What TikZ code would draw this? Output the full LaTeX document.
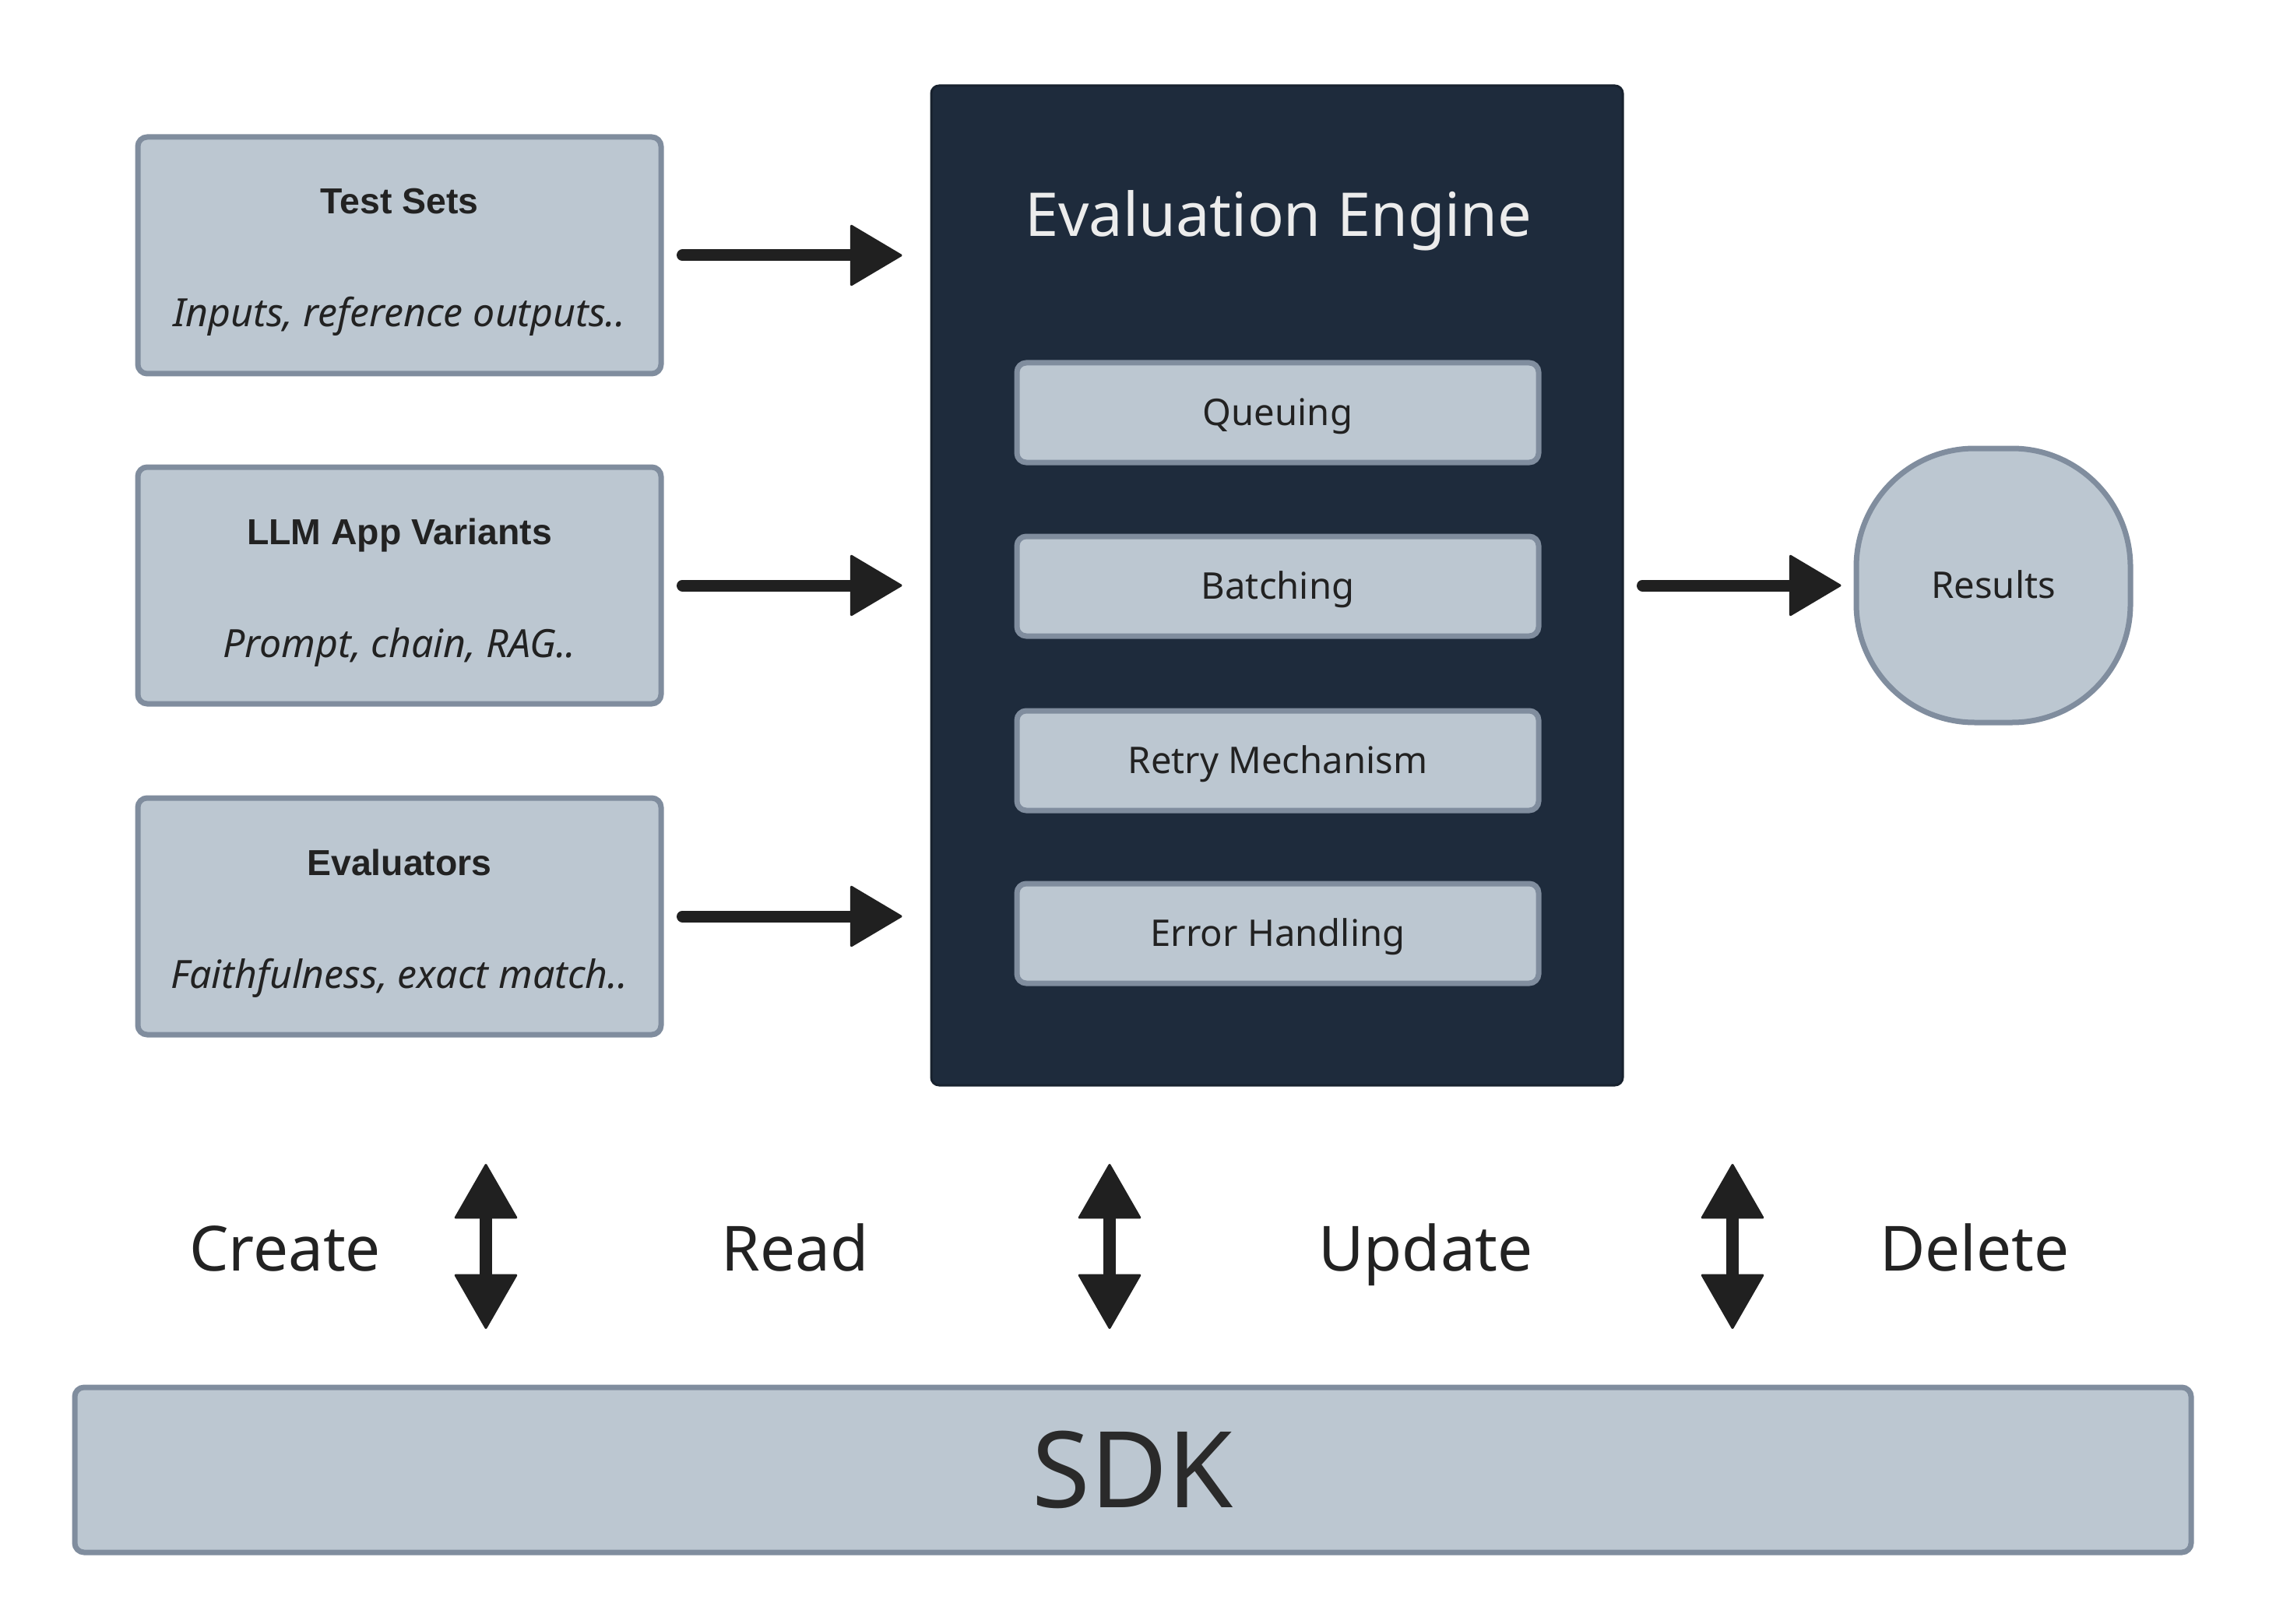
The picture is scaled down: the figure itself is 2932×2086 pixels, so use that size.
\documentclass[tikz,border=0pt]{standalone}
\usepackage{fontspec}
\setmainfont{Noto Sans}
\newfontfamily\titlefont{Liberation Sans}
\usetikzlibrary{arrows.meta,calc}
\definecolor{boxfill}{RGB}{188,199,209}
\definecolor{boxline}{RGB}{128,141,158}
\definecolor{engfill}{RGB}{30,43,60}
\definecolor{engline}{RGB}{24,34,47}
\definecolor{arrowc}{RGB}{32,32,32}
\definecolor{txt}{RGB}{34,34,34}
\definecolor{lighttxt}{RGB}{236,236,236}
\tikzset{
  greybox/.style={draw=boxline, fill=boxfill, line width=1.75pt, rounded corners=3pt, inner sep=0pt},
  inbox/.style={greybox, minimum width=168pt, minimum height=76pt},
  subbox/.style={greybox, minimum width=167.5pt, minimum height=32pt, text=txt,
    text height=8.4pt, text depth=0pt, font=\fontsize{11.8pt}{13pt}\selectfont},
  boxtitle/.style={anchor=base, text=txt, inner sep=0pt, font=\titlefont\fontsize{11.6pt}{13pt}\selectfont\bfseries},
  boxsub/.style={anchor=base, text=txt, inner sep=0pt, font=\fontsize{12.5pt}{14pt}\selectfont\itshape},
  crud/.style={anchor=base, text=txt, inner sep=0pt, font=\fontsize{20pt}{24pt}\selectfont},
  flow/.style={draw=arrowc, line width=3.75pt, line cap=round,
    -{Triangle[length=17pt, width=20pt, round, line width=0.75pt]}},
  dbl/.style={draw=arrowc, line width=4pt,
    {Triangle[length=18pt, width=20.5pt, round, line width=0.75pt]}-{Triangle[length=18pt, width=20.5pt, round, line width=0.75pt]}}
}
\begin{document}
\begin{tikzpicture}[x=0.25pt,y=-0.25pt]
\fill[white] (0,0) rectangle (2932,2086);
\useasboundingbox (0,0) rectangle (2932,2086);

% input boxes
\node[inbox] (ts) at (513,328) {};
\node[boxtitle] (tst) at ($(ts.center)+(0,-53)$) {Test Sets};
\node[boxsub] (tss) at ($(ts.center)+(0,92)$) {Inputs, reference outputs..};

\node[inbox] (llm) at (513,752) {};
\node[boxtitle] (llmt) at ($(llm.center)+(0,-53)$) {LLM App Variants};
\node[boxsub] (llms) at ($(llm.center)+(0,92)$) {Prompt, chain, RAG..};

\node[inbox] (ev) at (513,1177) {};
\node[boxtitle] (evt) at ($(ev.center)+(0,-53)$) {Evaluators};
\node[boxsub] (evs) at ($(ev.center)+(0,92)$) {Faithfulness, exact match..};

% engine
\node[draw=engline, fill=engfill, line width=0.75pt, rounded corners=2.5pt,
      minimum width=222pt, minimum height=321pt, inner sep=0pt] (eng) at (1640,752) {};
\node[anchor=base, text=lighttxt, inner sep=0pt, font=\fontsize{19.4pt}{24pt}\selectfont]
      (engt) at (1642,304) {Evaluation Engine};
\node[subbox] (q) at (1641,530) {Queuing};
\node[subbox] (b) at (1641,753) {Batching};
\node[subbox] (r) at (1641,977) {Retry Mechanism};
\node[subbox] (e) at (1641,1199) {Error Handling};

% results
\node[draw=boxline, fill=boxfill, line width=1.75pt, rounded corners=38pt,
      minimum width=88pt, minimum height=88pt, inner sep=0pt, text=txt,
      text height=8.4pt, text depth=0pt,
      font=\fontsize{11.8pt}{13pt}\selectfont] (res) at (2560,752) {Results};

% arrows
\draw[flow, shorten <=6pt, shorten >=9pt] (ts.east) -- (ts.east -| eng.west);
\draw[flow, shorten <=6pt, shorten >=9pt] (llm.east) -- (llm.east -| eng.west);
\draw[flow, shorten <=6pt, shorten >=9pt] (ev.east) -- (ev.east -| eng.west);
\draw[flow, shorten <=6pt, shorten >=4pt] (eng.east |- res.west) -- (res.west);

% CRUD labels
\node[crud] (cr) at (366,1632) {Create};
\node[crud] (rd) at (1021,1632) {Read};
\node[crud] (up) at (1831,1632) {Update};
\node[crud] (dl) at (2536,1632) {Delete};

% SDK
\node[draw=boxline, fill=boxfill, line width=1.75pt, rounded corners=3pt,
      minimum width=679.5pt, minimum height=53pt, inner sep=0pt, text={rgb,255:red,42;green,42;blue,42},
      font=\fontsize{34pt}{40pt}\selectfont] (sdk) at (1455,1888) {SDK};

% double arrows
\coordinate (a1t) at (624,1495); \coordinate (a1b) at (624,1707);
\coordinate (a2t) at (1425,1495); \coordinate (a2b) at (1425,1707);
\coordinate (a3t) at (2225,1495); \coordinate (a3b) at (2225,1707);
\draw[dbl] (a1t) -- (a1b);
\draw[dbl] (a2t) -- (a2b);
\draw[dbl] (a3t) -- (a3b);
\end{tikzpicture}
\end{document}
